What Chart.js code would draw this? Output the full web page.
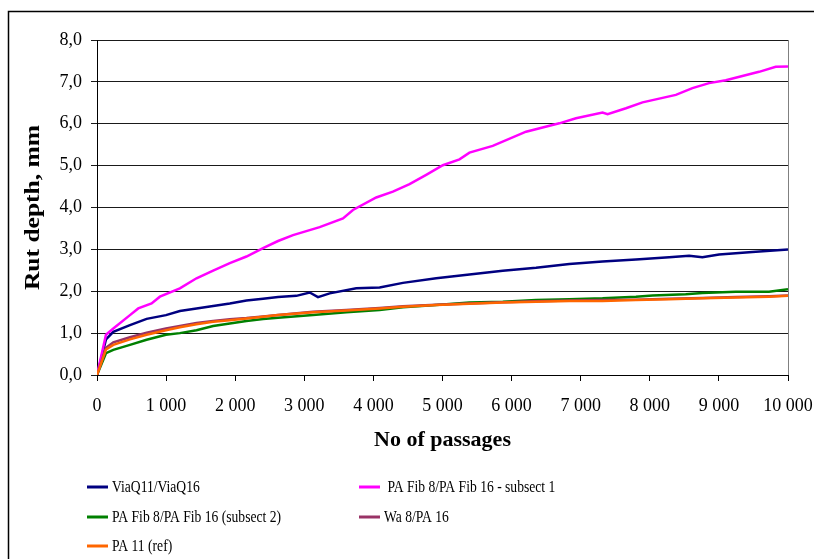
<!DOCTYPE html>
<html>
<head>
<meta charset="utf-8">
<title>Rut depth</title>
<script src="https://cdn.jsdelivr.net/npm/chart.js@4"></script>
<style>
  html, body { margin: 0; padding: 0; background: #fff; }
  #wrap { position: relative; width: 814px; height: 559px; }
</style>
</head>
<body>
<div id="wrap"><canvas id="rutChart" width="814" height="559"></canvas></div>
<script>
// rut depth (mm) against number of passages, one pair of arrays per section
const viaqPasses = [0, 130, 236, 477, 718, 998, 1199, 1440, 1681, 1922, 2163, 2403, 2620, 2885, 3078, 3198, 3367, 3752, 4090, 4427, 4909, 5390, 5872, 6354, 6835, 7316, 7799, 8280, 8569, 8761, 9003, 9484, 10000];
const viaqDepth  = [0, 0.85, 1.03, 1.19, 1.34, 1.43, 1.53, 1.59, 1.65, 1.71, 1.78, 1.82, 1.86, 1.89, 1.97, 1.86, 1.95, 2.07, 2.09, 2.20, 2.31, 2.40, 2.49, 2.56, 2.65, 2.71, 2.76, 2.81, 2.85, 2.81, 2.88, 2.94, 3.00];

const fib1Passes = [0, 130, 236, 477, 597, 790, 910, 1199, 1440, 1681, 1922, 2163, 2403, 2620, 2837, 3222, 3560, 3704, 4041, 4282, 4523, 4764, 5005, 5246, 5390, 5727, 6209, 6449, 6690, 6932, 7316, 7389, 7655, 7895, 8377, 8617, 8858, 9100, 9340, 9581, 9822, 10000];
const fib1Depth  = [0, 0.96, 1.11, 1.43, 1.59, 1.71, 1.87, 2.07, 2.31, 2.49, 2.67, 2.83, 3.03, 3.20, 3.34, 3.53, 3.74, 3.94, 4.24, 4.38, 4.56, 4.78, 5.01, 5.15, 5.31, 5.47, 5.81, 5.91, 6.01, 6.13, 6.27, 6.23, 6.37, 6.51, 6.69, 6.85, 6.97, 7.04, 7.14, 7.24, 7.36, 7.37];

const fib2Passes = [0, 130, 236, 477, 718, 998, 1199, 1440, 1681, 1922, 2163, 2403, 2620, 3126, 3608, 4090, 4427, 4909, 5390, 5872, 6354, 6835, 7316, 7799, 8040, 8520, 8761, 9244, 9725, 10000];
const fib2Depth  = [0, 0.52, 0.60, 0.72, 0.84, 0.96, 1.00, 1.07, 1.17, 1.23, 1.29, 1.34, 1.37, 1.43, 1.50, 1.55, 1.62, 1.67, 1.73, 1.75, 1.79, 1.81, 1.83, 1.87, 1.90, 1.93, 1.96, 1.99, 1.99, 2.05];

const refPasses = [0, 130, 236, 477, 718, 998, 1199, 1440, 1681, 1922, 2163, 2403, 2620, 3126, 3608, 4090, 4427, 4909, 5390, 5872, 6354, 6835, 7316, 7799, 8280, 8761, 9244, 9725, 10000];
const waDepth    = [0, 0.65, 0.78, 0.90, 1.01, 1.11, 1.17, 1.24, 1.29, 1.33, 1.36, 1.40, 1.43, 1.51, 1.55, 1.60, 1.64, 1.68, 1.71, 1.74, 1.76, 1.78, 1.79, 1.80, 1.82, 1.84, 1.86, 1.88, 1.90];
const pa11Depth  = [0, 0.61, 0.72, 0.85, 0.96, 1.07, 1.14, 1.21, 1.27, 1.31, 1.35, 1.39, 1.43, 1.50, 1.54, 1.59, 1.63, 1.67, 1.70, 1.73, 1.75, 1.77, 1.77, 1.79, 1.81, 1.83, 1.85, 1.87, 1.89];

const seriesNames  = ['ViaQ11/ViaQ16', ' PA Fib 8/PA Fib 16 - subsect 1', 'PA Fib 8/PA Fib 16 (subsect 2)', 'Wa 8/PA 16', 'PA 11 (ref)'];
const seriesColors = ['#000080', '#ff00ff', '#008000', '#993366', '#ff6600'];

const xTicks = [0, 1000, 2000, 3000, 4000, 5000, 6000, 7000, 8000, 9000, 10000];
const yTicks = [0, 1, 2, 3, 4, 5, 6, 7, 8];
const yTitle = 'Rut depth, mm';

const SERIF = '"Liberation Serif", "Times New Roman", serif';

function pts(xs, ys) {
  return xs.map((x, i) => ({ x, y: ys[i] }));
}

const seriesData = [
  pts(viaqPasses, viaqDepth),
  pts(fib1Passes, fib1Depth),
  pts(fib2Passes, fib2Depth),
  pts(refPasses, waDepth),
  pts(refPasses, pa11Depth)
];

// thousands with a space, decimals with a comma
const fmtPasses = v => String(v).replace(/\B(?=(\d{3})+(?!\d))/g, ' ');
const fmtDepth  = v => v.toFixed(1).replace('.', ',');

// outer frame, right edge of the plot area, y title and the two-column legend
const framePlugin = {
  id: 'frame',
  beforeDraw(chart) {
    const c = chart.ctx;
    c.save();
    c.strokeStyle = '#000';
    c.lineWidth = 1.5;
    c.beginPath();
    c.moveTo(8.5, chart.height + 5);
    c.lineTo(8.5, 11.5);
    c.lineTo(chart.width + 5, 11.5);
    c.stroke();
    c.restore();
  },
  afterDraw(chart) {
    const c = chart.ctx;
    const a = chart.chartArea;
    c.save();
    c.strokeStyle = '#808080';
    c.lineWidth = 1;
    c.beginPath();
    c.moveTo(Math.round(a.right) + 0.5, a.top);
    c.lineTo(Math.round(a.right) + 0.5, a.bottom);
    c.stroke();

    // rotated axis title, drawn a little stretched along its length
    c.save();
    c.translate(33, (a.top + a.bottom) / 2);
    c.rotate(-Math.PI / 2);
    c.scale(1.16, 1);
    c.font = 'bold 22px ' + SERIF;
    c.fillStyle = '#000';
    c.textAlign = 'center';
    c.textBaseline = 'middle';
    c.fillText(yTitle, 0, 0);
    c.restore();

    const cols = [87, 359];
    const rows = [487, 517, 546];
    c.font = '17px ' + SERIF;
    c.textBaseline = 'middle';
    c.fillStyle = '#000';
    chart.data.datasets.forEach((ds, i) => {
      const x = cols[i % 2];
      const y = rows[Math.floor(i / 2)];
      c.strokeStyle = ds.borderColor;
      c.lineWidth = 3;
      c.beginPath();
      c.moveTo(x, y);
      c.lineTo(x + 21, y);
      c.stroke();
      c.save();
      c.translate(x + 25, y + 1);
      c.scale(0.8, 1);
      c.fillText(ds.label, 0, 0);
      c.restore();
    });
    c.restore();
  }
};

const ctx = document.getElementById('rutChart').getContext('2d');
const rutChart = new Chart(ctx, {
  type: 'line',
  data: {
    datasets: seriesNames.map((name, i) => ({
      label: name,
      data: seriesData[i],
      borderColor: seriesColors[i],
      backgroundColor: seriesColors[i],
      borderWidth: 2.5,
      pointRadius: 0,
      tension: 0,
      order: seriesNames.length - i
    }))
  },
  options: {
    responsive: false,
    animation: false,
    layout: { padding: { left: 0, top: 40, right: 26, bottom: 105 } },
    plugins: {
      legend: { display: false },
      tooltip: { enabled: false }
    },
    scales: {
      x: {
        type: 'linear',
        min: 0,
        max: 10000,
        afterBuildTicks: s => { s.ticks = xTicks.map(v => ({ value: v })); },
        afterFit: s => { s.height = 79; s.paddingLeft = 0; s.paddingRight = 0; },
        ticks: {
          color: '#000',
          padding: 14,
          maxRotation: 0,
          font: { family: SERIF, size: 18 },
          callback: v => fmtPasses(v)
        },
        grid: { drawOnChartArea: false, color: '#000', tickLength: 6 },
        border: { color: '#000', width: 1 },
        title: {
          display: true,
          text: 'No of passages',
          color: '#000',
          padding: { top: 0, bottom: 0 },
          font: { family: SERIF, size: 22, weight: 'bold' }
        }
      },
      y: {
        min: 0,
        max: 8,
        afterBuildTicks: s => { s.ticks = yTicks.map(v => ({ value: v })); },
        afterFit: s => { s.width = 97; s.paddingTop = 0; s.paddingBottom = 0; },
        ticks: {
          color: '#000',
          padding: 9,
          font: { family: SERIF, size: 18 },
          callback: v => fmtDepth(v)
        },
        grid: { color: '#1a1a1a', tickLength: 6 },
        border: { color: '#000', width: 1 }
      }
    }
  },
  plugins: [framePlugin]
});
</script>
</body>
</html>
